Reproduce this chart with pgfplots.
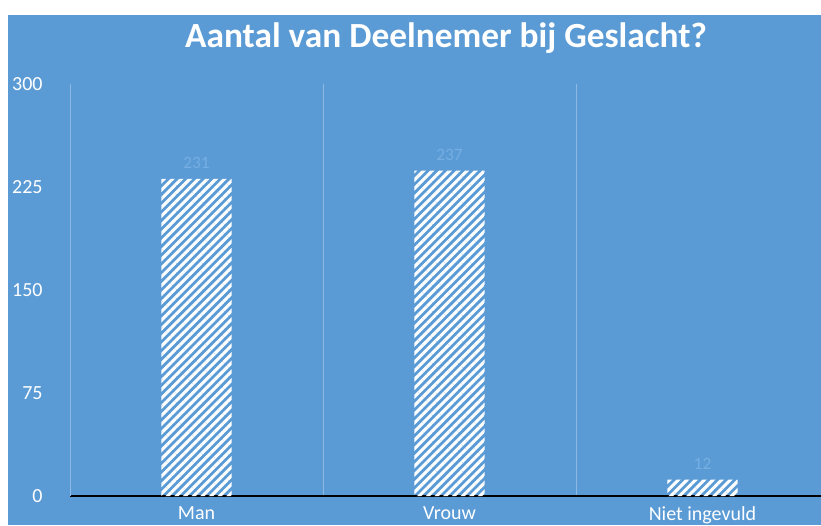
\documentclass[border=0pt]{standalone}
\usepackage{pgfplots}
\pgfplotsset{compat=1.18}
\usepackage{fontspec}
\setmainfont{Carlito}
\usetikzlibrary{patterns.meta}
\definecolor{bg}{HTML}{5B9BD5}
\definecolor{gridc}{HTML}{8DB9E4}
\definecolor{lblc}{HTML}{74AEE3}
\begin{document}
\begin{tikzpicture}[x=0.75pt,y=0.75pt]
\fill[white] (0,0) rectangle (821,525);
\fill[bg] (8,0) rectangle (821,510);
\node[text=white,font=\bfseries\fontsize{26.5}{30}\selectfont] at (446,487) {Aantal van Deelnemer bij Geslacht?};
\begin{axis}[
  at={(52.5pt,21.75pt)}, anchor=south west,
  scale only axis,
  width=569.25pt, height=309pt,
  xmin=-0.5, xmax=2.5, ymin=0, ymax=300,
  ytick={0,75,150,225,300},
  xtick={0,1,2},
  xticklabels={Man,Vrouw,Niet ingevuld},
  minor xtick={0.5,1.5},
  minor x grid style={draw=gridc, line width=0.6pt},
  xminorgrids=true,
  major tick length=0pt, minor tick length=0pt,
  axis x line*=bottom, axis y line*=left,
  x axis line style={draw=black, line width=1.5pt, -},
  y axis line style={draw=gridc, line width=0.6pt, -},
  ticklabel style={text=white, font=\fontsize{15}{17}\selectfont},
  yticklabel style={anchor=east, xshift=-17pt},
  xticklabel style={anchor=north, yshift=-4.5pt},
  /pgf/number format/assume math mode=true,
  ybar, bar width=0.277,
  nodes near coords,
  nodes near coords style={text=lblc, font=\fontsize{13}{15}\selectfont, yshift=4pt},
  clip=false,
]
\addplot[draw=none, pattern={Lines[angle=45,distance=4.6pt,line width=2.3pt]}, pattern color=white]
  coordinates {(0,231) (1,237) (2,12)};
\end{axis}
\pgfresetboundingbox
\useasboundingbox (0,0) rectangle (821,525);
\end{tikzpicture}
\end{document}
